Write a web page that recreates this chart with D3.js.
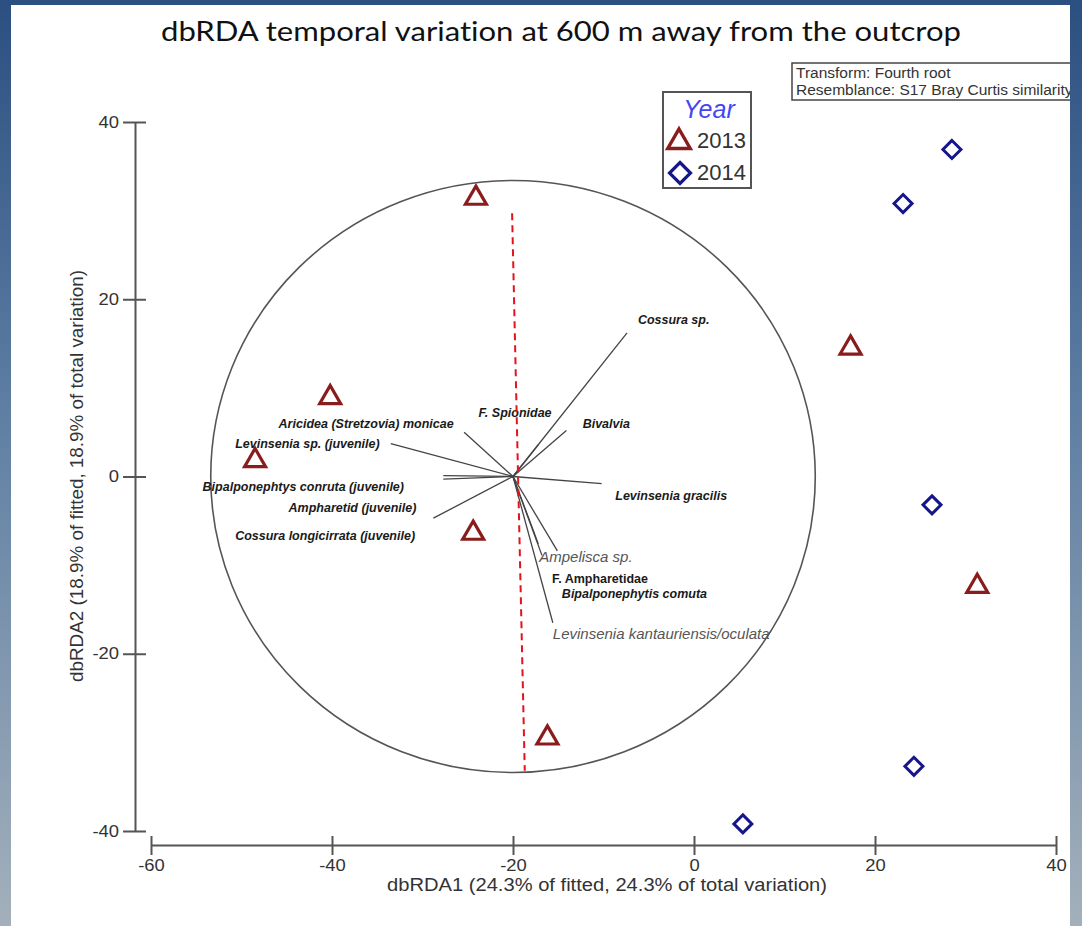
<!DOCTYPE html>
<html>
<head>
<meta charset="utf-8">
<script src="https://cdn.jsdelivr.net/npm/d3@7"></script>
<style>
	html, body { margin: 0; padding: 0; }
	body { width: 1082px; height: 926px; overflow: hidden; }
	text { font-family: "Liberation Sans", Arial, sans-serif; }
</style>
</head>
<body>
<div id="chart"></div>
<script>
// samples (dbRDA1, dbRDA2)
var pts2013 = [[-24.1, 31.4], [-40.2, 8.9], [-48.5, 1.8], [-24.4, -6.4], [-16.2, -29.5], [17.3, 14.5], [31.3, -12.4]];
var pts2014 = [[28.5, 36.9], [23.1, 30.8], [26.3, -3.2], [24.3, -32.7], [5.4, -39.2]];

// species vectors (tip coordinates) and where their labels sit
var species = ['Aricidea (Stretzovia) monicae', 'Levinsenia sp. (juvenile)', 'Bipalponephtys conruta (juvenile)',
	'Ampharetid (juvenile)', 'Cossura longicirrata (juvenile)', 'F. Spionidae', 'Cossura sp.', 'Bivalvia',
	'Levinsenia gracilis', 'Ampelisca sp.', 'F. Ampharetidae', 'Bipalponephytis comuta',
	'Levinsenia kantauriensis/oculata'];
var vecX = [-25.4, -33.5, -27.7, -28.8, -27.7, -17.2, -7.4, -14.1, -10.2, -15.1, -17.2, -16.8, -15.6];
var vecY = [5.0, 3.7, -0.3, -4.7, 0.1, 3.6, 16.2, 5.2, -0.8, -8.4, -7.6, -8.9, -16.5];
var labelX = [-45.9, -50.7, -54.3, -44.8, -50.7, -23.8, -6.2, -12.3, -8.7, -17.1, -15.7, -14.6, -15.6];
var labelY = [5.5, 3.2, -1.6, -4.0, -7.2, 6.7, 17.2, 5.5, -2.6, -9.7, -12.0, -13.7, -18.3];
var labelKind = ['s', 's', 's', 's', 's', 's', 's', 's', 's', 'big', 'plain', 's', 'big'];

var vecOrigin = [-20, 0];
var circleR = 33.4;
var trendLine = [[-20.1, 29.7], [-18.7, -33.2]];

var xTicks = [-60, -40, -20, 0, 20, 40];
var yTicks = [-40, -20, 0, 20, 40];
var years = ['2013', '2014'];

var svg = d3.select('#chart').append('svg')
	.attr('width', 1082)
	.attr('height', 926);

var defs = svg.append('defs');
var grad = defs.append('linearGradient')
	.attr('id', 'bg')
	.attr('x1', 0).attr('y1', 0).attr('x2', 0).attr('y2', 1);
grad.append('stop').attr('offset', '0%').attr('stop-color', '#2b4f80');
grad.append('stop').attr('offset', '45%').attr('stop-color', '#5f7fa3');
grad.append('stop').attr('offset', '100%').attr('stop-color', '#a3b0bb');

defs.append('clipPath').attr('id', 'panel')
	.append('rect').attr('x', 11).attr('y', 5).attr('width', 1059).attr('height', 921);

svg.append('rect').attr('width', 1082).attr('height', 926).attr('fill', 'url(#bg)');
svg.append('rect').attr('x', 11).attr('y', 5).attr('width', 1059).attr('height', 921).attr('fill', '#fff');

var g = svg.append('g').attr('clip-path', 'url(#panel)');

var x = d3.scaleLinear().domain([-60, 40]).range([151, 1056]);
var y = d3.scaleLinear().domain([-40, 40]).range([831, 122]);

// title
g.append('text')
	.attr('x', 561)
	.attr('y', 41)
	.attr('text-anchor', 'middle')
	.attr('textLength', 800)
	.attr('lengthAdjust', 'spacingAndGlyphs')
	.style('font-family', 'Lato, "Open Sans", sans-serif')
	.style('font-variant-ligatures', 'none')
	.style('font-size', '27px')
	.style('fill', '#111')
	.text('dbRDA temporal variation at 600 m away from the outcrop');

// axes
var tickFmt = function(d) { return String(d); };
var stretch = 1.15;

var yAxis = g.append('g')
	.attr('transform', 'translate(135,0)')
	.call(d3.axisLeft(y).tickValues(yTicks).tickSizeOuter(0).tickFormat(tickFmt));
yAxis.selectAll('.tick line').attr('x1', -12).attr('x2', 11);
yAxis.selectAll('.tick text').attr('x', -16 / stretch);

var xAxis = g.append('g')
	.attr('transform', 'translate(0,845)')
	.call(d3.axisBottom(x).tickValues(xTicks).tickSizeOuter(0).tickFormat(tickFmt));
xAxis.selectAll('.tick line').attr('y1', -9).attr('y2', 10);
xAxis.selectAll('.tick text').attr('y', 15);

[xAxis, yAxis].forEach(function(a) {
	a.select('.domain').attr('stroke', '#555').attr('stroke-width', 2);
	a.selectAll('.tick line').attr('stroke', '#555').attr('stroke-width', 2);
	a.selectAll('.tick text')
		.attr('transform', 'scale(' + stretch + ',1)')
		.style('font-size', '16px')
		.style('font-family', '"Liberation Sans", Arial, sans-serif')
		.attr('fill', '#333');
});

g.append('text')
	.attr('x', 607)
	.attr('y', 891)
	.attr('text-anchor', 'middle')
	.attr('textLength', 440)
	.attr('lengthAdjust', 'spacingAndGlyphs')
	.style('font-size', '18px')
	.attr('fill', '#333')
	.text('dbRDA1 (24.3% of fitted, 24.3% of total variation)');

g.append('text')
	.attr('transform', 'translate(83,476) rotate(-90)')
	.attr('text-anchor', 'middle')
	.attr('textLength', 412)
	.attr('lengthAdjust', 'spacingAndGlyphs')
	.style('font-size', '18px')
	.attr('fill', '#333')
	.text('dbRDA2 (18.9% of fitted, 18.9% of total variation)');

// correlation circle
g.append('ellipse')
	.attr('cx', x(vecOrigin[0]))
	.attr('cy', y(vecOrigin[1]))
	.attr('rx', x(circleR) - x(0))
	.attr('ry', y(0) - y(circleR))
	.attr('fill', 'none')
	.attr('stroke', '#555')
	.attr('stroke-width', 1.6);

// species vectors
g.selectAll('line.vec')
	.data(species)
	.enter()
	.append('line')
	.attr('class', 'vec')
	.attr('x1', x(vecOrigin[0]))
	.attr('y1', y(vecOrigin[1]))
	.attr('x2', function(d, i) { return x(vecX[i]); })
	.attr('y2', function(d, i) { return y(vecY[i]); })
	.attr('stroke', '#444')
	.attr('stroke-width', 1.3);

g.selectAll('text.sp')
	.data(species)
	.enter()
	.append('text')
	.attr('class', 'sp')
	.attr('x', function(d, i) { return x(labelX[i]); })
	.attr('y', function(d, i) { return y(labelY[i]); })
	.style('font-size', function(d, i) { return labelKind[i] === 'big' ? '15px' : '12.5px'; })
	.style('font-style', function(d, i) { return labelKind[i] === 'plain' ? 'normal' : 'italic'; })
	.style('font-weight', function(d, i) { return labelKind[i] === 'big' ? 'normal' : 'bold'; })
	.attr('fill', function(d, i) { return labelKind[i] === 'big' ? '#555' : '#1a1a1a'; })
	.text(function(d) { return d; });

// red dashed line
g.append('line')
	.attr('x1', x(trendLine[0][0]))
	.attr('y1', y(trendLine[0][1]))
	.attr('x2', x(trendLine[1][0]))
	.attr('y2', y(trendLine[1][1]))
	.attr('stroke', '#e8101a')
	.attr('stroke-width', 2)
	.attr('stroke-dasharray', '7,5');

// samples
var tri = d3.symbol().type(d3.symbolTriangle).size(190);
var dia = function(s) { return 'M0,' + (-s) + 'L' + s + ',0L0,' + s + 'L' + (-s) + ',0Z'; };

g.selectAll('path.t13')
	.data(pts2013)
	.enter()
	.append('path')
	.attr('class', 't13')
	.attr('d', tri)
	.attr('transform', function(d) { return 'translate(' + x(d[0]) + ',' + y(d[1]) + ')'; })
	.attr('fill', 'none')
	.attr('stroke', '#8b1c1c')
	.attr('stroke-width', 3.2);

g.selectAll('path.d14')
	.data(pts2014)
	.enter()
	.append('path')
	.attr('class', 'd14')
	.attr('d', dia(9))
	.attr('transform', function(d) { return 'translate(' + x(d[0]) + ',' + y(d[1]) + ')'; })
	.attr('fill', 'none')
	.attr('stroke', '#16168c')
	.attr('stroke-width', 3);

// legend
var leg = g.append('g');
leg.append('rect')
	.attr('x', 663).attr('y', 92).attr('width', 88).attr('height', 96)
	.attr('fill', '#fff').attr('stroke', '#555').attr('stroke-width', 2);
leg.append('text')
	.attr('x', 709).attr('y', 118)
	.attr('text-anchor', 'middle')
	.style('font-size', '25px')
	.style('font-style', 'italic')
	.attr('fill', '#4646f0')
	.text('Year');
leg.append('path')
	.attr('d', d3.symbol().type(d3.symbolTriangle).size(220))
	.attr('transform', 'translate(679,142)')
	.attr('fill', 'none').attr('stroke', '#8b1c1c').attr('stroke-width', 3.4);
leg.append('path')
	.attr('d', dia(10.5))
	.attr('transform', 'translate(680,173)')
	.attr('fill', 'none').attr('stroke', '#16168c').attr('stroke-width', 3.2);
leg.selectAll('text.yr')
	.data(years)
	.enter()
	.append('text')
	.attr('class', 'yr')
	.attr('x', 697)
	.attr('y', function(d, i) { return 148 + i * 32; })
	.style('font-size', '22px')
	.attr('fill', '#333')
	.text(function(d) { return d; });

// info box
var info = g.append('g');
info.append('rect')
	.attr('x', 792).attr('y', 63).attr('width', 300).attr('height', 37)
	.attr('fill', '#fff').attr('stroke', '#444').attr('stroke-width', 1.5);
info.selectAll('text')
	.data(['Transform: Fourth root', 'Resemblance: S17 Bray Curtis similarity'])
	.enter()
	.append('text')
	.attr('x', 796)
	.attr('y', function(d, i) { return 78 + i * 17; })
	.style('font-size', '15.5px')
	.attr('fill', '#333')
	.text(function(d) { return d; });
</script>
</body>
</html>
